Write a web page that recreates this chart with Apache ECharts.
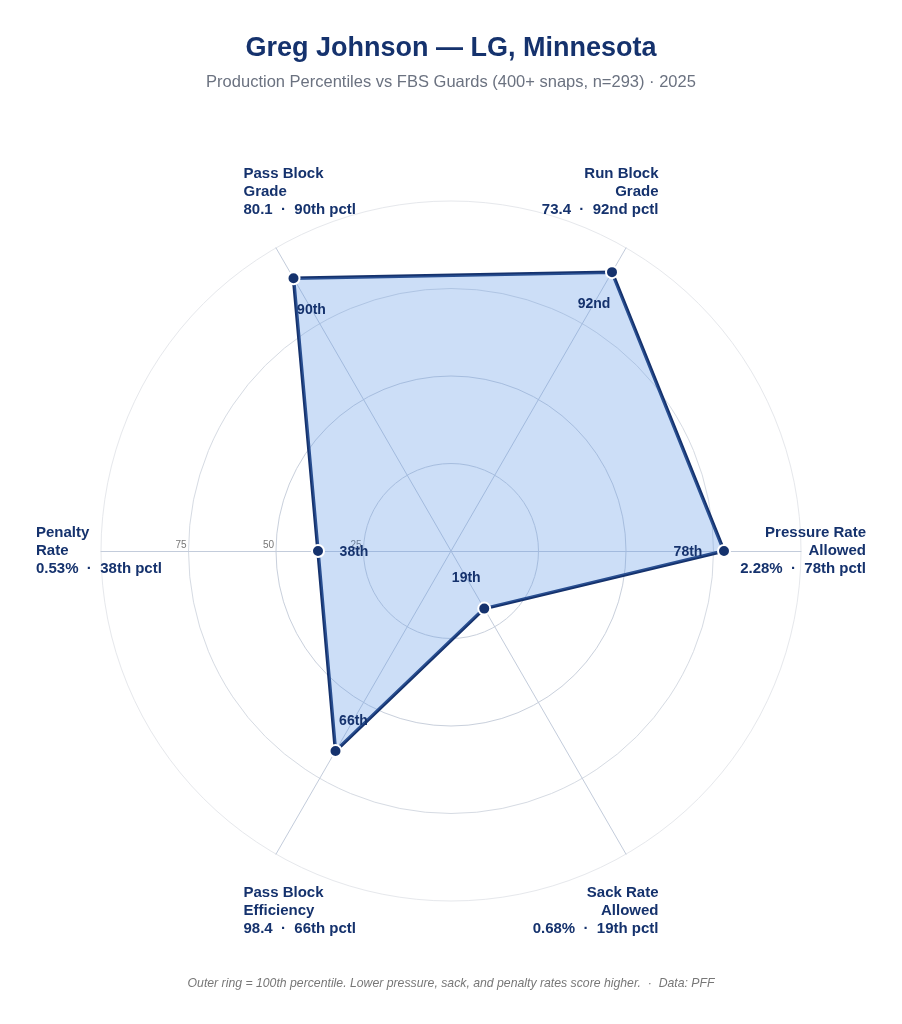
<!DOCTYPE html>
<html>
<head>
<meta charset="utf-8">
<title>Greg Johnson radar</title>
<script src="https://cdn.jsdelivr.net/npm/echarts@6/dist/echarts.min.js"></script>
<style>
  html, body { margin: 0; padding: 0; background: #fff; }
  #chart { width: 902px; height: 1024px; }
</style>
</head>
<body>
<div id="chart"></div>
<script>
// axes, counter-clockwise from 3 o'clock (ECharts radar order)
const metrics = ['Pressure Rate\nAllowed', 'Run Block\nGrade', 'Pass Block\nGrade', 'Penalty\nRate', 'Pass Block\nEfficiency', 'Sack Rate\nAllowed'];
const rawValues = ['2.28%', '73.4', '80.1', '0.53%', '98.4', '0.68%'];
const percentiles = [78, 92, 90, 38, 66, 19];
const pctlLabels = ['78th', '92nd', '90th', '38th', '66th', '19th'];
const ringTicks = [25, 50, 75];

const navy = '#15326d';
const font = '"Liberation Sans", Arial, sans-serif';

const chart = echarts.init(document.getElementById('chart'));

// right-hand axes get right aligned names, left-hand ones left aligned
const sides = ['right', 'right', 'left', 'left', 'left', 'right'];

const indicator = metrics.map((m, i) => {
    const ind = {
        name: m,
        min: 0,
        max: 100,
        nameTextStyle: { align: sides[i], verticalAlign: 'middle' }
    };
    // ring values are written along the penalty (9 o'clock) axis
    if (i === 3) {
        ind.axisLabel = {
            show: true,
            color: '#777',
            fontSize: 10,
            fontFamily: font,
            margin: 0,
            align: 'right',
            verticalAlign: 'bottom',
            padding: [0, 2, 1, 0],
            formatter: v => ringTicks.indexOf(v) > -1 ? String(v) : ''
        };
    }
    return ind;
});

// one invisible series per axis, only to place that axis' percentile label inward
const labelSeries = metrics.map((m, k) => {
    const a = k * Math.PI / 3;
    return {
        type: 'radar',
        silent: true,
        symbol: 'circle',
        symbolSize: 1,
        itemStyle: { color: 'transparent' },
        lineStyle: { width: 0, opacity: 0 },
        z: 5,
        label: {
            show: true,
            position: 'inside',
            offset: [-36 * Math.cos(a), 36 * Math.sin(a) + 1],
            color: navy,
            fontFamily: font,
            fontWeight: 'bold',
            fontSize: 14,
            formatter: p => p.dimensionIndex === k ? pctlLabels[k] : ''
        },
        data: [{ value: percentiles }]
    };
});

let option = {
    backgroundColor: '#fff',
    animation: false,
    title: [
        {
            text: 'Greg Johnson — LG, Minnesota',
            subtext: 'Production Percentiles vs FBS Guards (400+ snaps, n=293) · 2025',
            left: 'center',
            top: 30,
            itemGap: 12,
            textStyle: { color: navy, fontFamily: font, fontWeight: 'bold', fontSize: 27 },
            subtextStyle: { color: '#6b7280', fontFamily: font, fontSize: 16.5 }
        },
        {
            text: 'Outer ring = 100th percentile. Lower pressure, sack, and penalty rates score higher.  ·  Data: PFF',
            left: 'center',
            top: 973,
            textStyle: { color: '#777', fontFamily: font, fontStyle: 'italic', fontWeight: 'normal', fontSize: 12.25 }
        }
    ],
    radar: {
        center: [451, 551],
        radius: 350,
        startAngle: 0,
        shape: 'circle',
        splitNumber: 4,
        nameGap: 65,
        axisName: {
            color: navy,
            fontFamily: font,
            fontWeight: 'bold',
            fontSize: 15,
            lineHeight: 18,
            formatter: (name) => {
                const i = metrics.indexOf(name);
                const st = sides[i] === 'left' ? 'l' : 'r';
                const lines = name.split('\n');
                lines.push(rawValues[i] + '  ·  ' + pctlLabels[i] + ' pctl');
                return lines.map(t => '{' + st + '|' + t + '}').join('\n');
            },
            rich: {
                l: { align: 'left', color: navy, fontFamily: font, fontWeight: 'bold', fontSize: 15, lineHeight: 18 },
                r: { align: 'right', color: navy, fontFamily: font, fontWeight: 'bold', fontSize: 15, lineHeight: 18 }
            }
        },
        axisLine: { lineStyle: { color: '#c3ccdb', width: 1 } },
        splitLine: { lineStyle: { color: ['#c9d0dc', '#c9d0dc', '#c9d0dc', '#d6dbe3', '#e6e8ec'], width: 1 } },
        splitArea: { show: false },
        axisTick: { show: false },
        axisLabel: { show: false },
        indicator: indicator
    },
    series: [
        {
            type: 'radar',
            symbol: 'circle',
            symbolSize: 12,
            z: 3,
            itemStyle: { color: navy, borderColor: '#fff', borderWidth: 2 },
            lineStyle: { color: navy, width: 3.5 },
            areaStyle: { color: 'rgba(85,145,228,0.3)', opacity: 1 },
            data: [{ value: percentiles, name: 'Greg Johnson' }]
        }
    ].concat(labelSeries)
};

chart.setOption(option);
</script>
</body>
</html>
